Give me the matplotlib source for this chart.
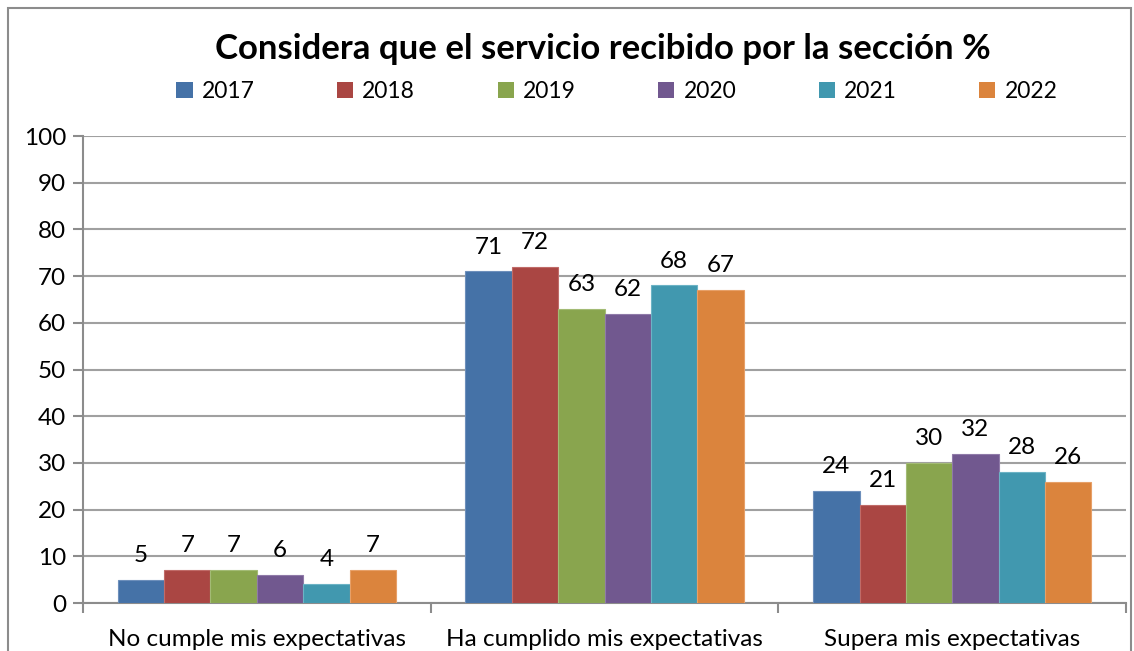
import numpy as np
import matplotlib.pyplot as plt
from matplotlib.patches import Rectangle, Patch

plt.rcParams['font.family'] = ['Lato', 'DejaVu Sans']

categories = ["No cumple mis expectativas", "Ha cumplido mis expectativas", "Supera mis expectativas"]
years = ["2017", "2018", "2019", "2020", "2021", "2022"]
values = {
    "2017": [5, 71, 24],
    "2018": [7, 72, 21],
    "2019": [7, 63, 30],
    "2020": [6, 62, 32],
    "2021": [4, 68, 28],
    "2022": [7, 67, 26],
}
colors = ["#4572A7", "#AA4643", "#89A54E", "#71588F", "#4198AF", "#DB843D"]
edges = ["#6d8fbb", "#c06b68", "#a3bb75", "#8f7aa8", "#6cb3c5", "#e7a068"]

fig = plt.figure(figsize=(11.34, 6.51), dpi=100)
ax = fig.add_axes([0.0732, 0.0737, 0.9198, 0.7173])

x = np.arange(len(categories))
w = 0.8 / len(years)
for i, y in enumerate(years):
    bars = ax.bar(x - 0.4 + w * (i + 0.5), values[y], w, color=colors[i],
                  edgecolor=edges[i], linewidth=0.8, zorder=3)
    ax.bar_label(bars, padding=10, fontsize=17.5, color="black")

ax.set_xlim(-0.5, 2.5)
ax.set_ylim(0, 100)
ax.set_yticks(range(0, 101, 10))
ax.set_xticks([-0.5, 0.5, 1.5, 2.5])
ax.set_xticklabels([])
ax.set_xticks(x, minor=True)
ax.set_xticklabels(categories, minor=True, fontsize=17.5)
ax.tick_params(axis="x", which="minor", length=0, pad=19)
ax.tick_params(axis="x", which="major", length=7, width=1.5, color="#8c8c8c", direction="out")
ax.tick_params(axis="y", length=7, width=1.5, color="#8c8c8c", labelsize=17.5, pad=5)
ax.grid(axis="y", color="#a0a0a0", linewidth=1.5, zorder=0)
for s in ["top", "right"]:
    ax.spines[s].set_visible(False)
for s in ["left", "bottom"]:
    ax.spines[s].set_color("#8c8c8c")
    ax.spines[s].set_linewidth(1.5)

fig.text(0.532, 0.925, "Considera que el servicio recibido por la sección %",
         ha="center", va="center", fontsize=25, fontweight="bold")

handles = [Patch(facecolor=c) for c in colors]
fig.legend(handles, years, loc="center", bbox_to_anchor=(0.544, 0.86), ncol=6,
           frameon=False, fontsize=16.5, handlelength=0.7, handleheight=0.7,
           handletextpad=0.4, columnspacing=3.6)

fig.patches.append(Rectangle((8 / 1134, -0.1), 1123 / 1134, 1.1 - 8 / 651,
                             transform=fig.transFigure, fill=False,
                             edgecolor="#8c8c8c", linewidth=1.5))

plt.savefig("out.png")
